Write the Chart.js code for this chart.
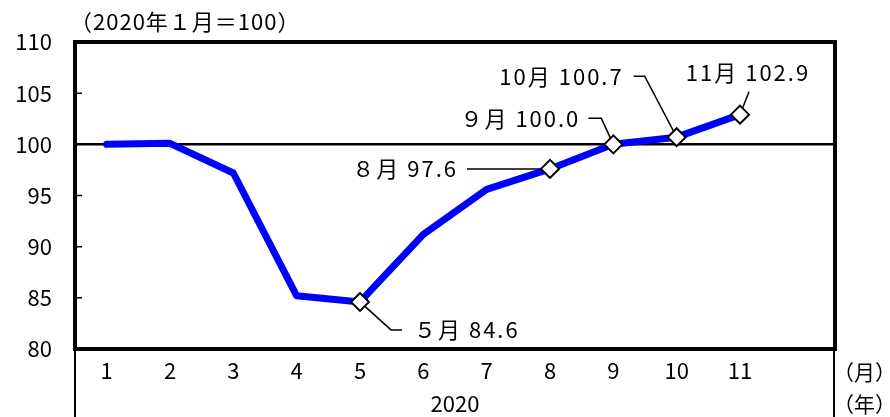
<!DOCTYPE html>
<html>
<head>
<meta charset="utf-8">
<script src="https://cdn.jsdelivr.net/npm/chart.js@4"></script>
<style>
  html, body { margin: 0; padding: 0; background: #fff; }
  #wrap { width: 890px; height: 417px; }
</style>
</head>
<body>
<div id="wrap"><canvas id="indexChart" width="890" height="417"></canvas></div>
<script>
// data (2020, Jan = 100)
const months = ['1', '2', '3', '4', '5', '6', '7', '8', '9', '10', '11', ''];
const indexValues = [100.0, 100.1, 97.2, 85.2, 84.6, 91.2, 95.6, 97.6, 100.0, 100.7, 102.9, null];
const yTicks = [80, 85, 90, 95, 100, 105, 110];
const markedMonths = ['5', '8', '9', '10', '11'];
const markedLabels = ['５月 84.6', '８月 97.6', '９月 100.0', '10月 100.7', '11月 102.9'];
const yearLabel = '2020';
const baseNote = '（2020年１月＝100）';

const FONT = "'Noto Sans CJK JP', 'Noto Sans', sans-serif";

// leader line shapes + text anchor, offsets from the marker pixel
const leaders = {
    '5':  { path: [[0, 0], [31, 28], [42, 28]], text: [54, 28], align: 'left' },
    '8':  { path: [[-83, 0], [0, 0]], text: [-92, 0], align: 'right' },
    '9':  { path: [[-25, -26], [-12, -26], [0, 0]], text: [-33, -26], align: 'right' },
    '10': { path: [[-43, -61], [-32, -61], [0, 0]], text: [-53, -61], align: 'right' },
    '11': { path: [[0, 0], [9, -23]], text: [8, -42], align: 'center' }
};

const framePlugin = {
    id: 'frame',
    beforeDatasetsDraw(chart) {
        const ctx = chart.ctx;
        const x = chart.scales.x, y = chart.scales.y;
        ctx.save();
        ctx.strokeStyle = '#000';
        ctx.lineWidth = 1.5;
        markedMonths.forEach(m => {
            const i = months.indexOf(m);
            const px = x.getPixelForValue(i), py = y.getPixelForValue(indexValues[i]);
            const l = leaders[m];
            ctx.beginPath();
            l.path.forEach((p, k) => {
                if (k === 0) ctx.moveTo(px + p[0], py + p[1]);
                else ctx.lineTo(px + p[0], py + p[1]);
            });
            ctx.stroke();
        });
        ctx.restore();
    },
    afterDraw(chart) {
        const ctx = chart.ctx;
        const a = chart.chartArea;
        const x = chart.scales.x, y = chart.scales.y;
        ctx.save();
        ctx.strokeStyle = '#000';
        // top and right border
        ctx.lineWidth = 4;
        ctx.beginPath();
        ctx.moveTo(a.left - 2, a.top);
        ctx.lineTo(a.right, a.top);
        ctx.lineTo(a.right, a.bottom + 2);
        ctx.stroke();
        // table lines below the axis
        ctx.lineWidth = 2;
        ctx.beginPath();
        ctx.moveTo(a.left, a.bottom);
        ctx.lineTo(a.left, chart.height);
        ctx.moveTo(a.right - 1, a.bottom);
        ctx.lineTo(a.right - 1, chart.height);
        ctx.stroke();
        // inward y ticks
        ctx.lineWidth = 1.5;
        ctx.beginPath();
        yTicks.forEach(v => {
            if (v === 80 || v === 110 || v === 100) return;
            const ty = y.getPixelForValue(v);
            ctx.moveTo(a.left, ty);
            ctx.lineTo(a.left + 7, ty);
        });
        ctx.stroke();

        ctx.fillStyle = '#000';
        ctx.font = '22px ' + FONT;
        ctx.textBaseline = 'middle';
        ctx.letterSpacing = '2px';
        markedMonths.forEach((m, k) => {
            const i = months.indexOf(m);
            const px = x.getPixelForValue(i), py = y.getPixelForValue(indexValues[i]);
            const l = leaders[m];
            ctx.textAlign = l.align;
            ctx.fillText(markedLabels[k], px + l.text[0], py + l.text[1]);
        });

        ctx.textAlign = 'left';
        ctx.letterSpacing = '1px';
        ctx.fillText(baseNote, a.left - 5, 22);
        ctx.letterSpacing = '0px';
        ctx.font = '21px ' + FONT;
        ctx.fillText('（月）', a.right - 2, 372);
        ctx.fillText('（年）', a.right - 2, 404);
        ctx.restore();
    }
};

const indexCtx = document.getElementById('indexChart').getContext('2d');
const indexChart = new Chart(indexCtx, {
    type: 'line',
    data: {
        labels: months,
        datasets: [{
            data: indexValues,
            borderColor: '#0000ff',
            borderWidth: 7,
            borderCapStyle: 'round',
            borderJoinStyle: 'round',
            tension: 0,
            pointStyle: 'rectRot',
            pointRadius: months.map(m => markedMonths.includes(m) ? 9 : 0),
            pointBackgroundColor: '#fff',
            pointBorderColor: '#000',
            pointBorderWidth: 2
        }]
    },
    options: {
        responsive: false,
        animation: false,
        layout: {
            padding: { top: 42, right: 55, left: 0, bottom: 0 }
        },
        plugins: {
            legend: { display: false },
            tooltip: { enabled: false }
        },
        scales: {
            y: {
                min: 80,
                max: 110,
                afterFit: s => { s.width = 75; },
                afterBuildTicks: s => { s.ticks = yTicks.map(v => ({ value: v })); },
                ticks: {
                    color: '#000',
                    padding: 23,
                    font: { family: FONT, size: 22 }
                },
                grid: {
                    drawTicks: false,
                    color: c => c.tick && c.tick.value === 100 ? '#000' : 'rgba(0,0,0,0)',
                    lineWidth: 2.5
                },
                border: { color: '#000', width: 4 }
            },
            x: {
                offset: true,
                afterFit: s => { s.height = 68; },
                ticks: {
                    color: '#000',
                    padding: 8,
                    maxRotation: 0,
                    autoSkip: false,
                    font: { family: FONT, size: 22 }
                },
                grid: { display: false, drawTicks: false },
                border: { color: '#000', width: 4 },
                title: {
                    display: true,
                    text: yearLabel,
                    color: '#000',
                    padding: 0,
                    font: { family: FONT, size: 22 }
                }
            }
        }
    },
    plugins: [framePlugin]
});
</script>
</body>
</html>
